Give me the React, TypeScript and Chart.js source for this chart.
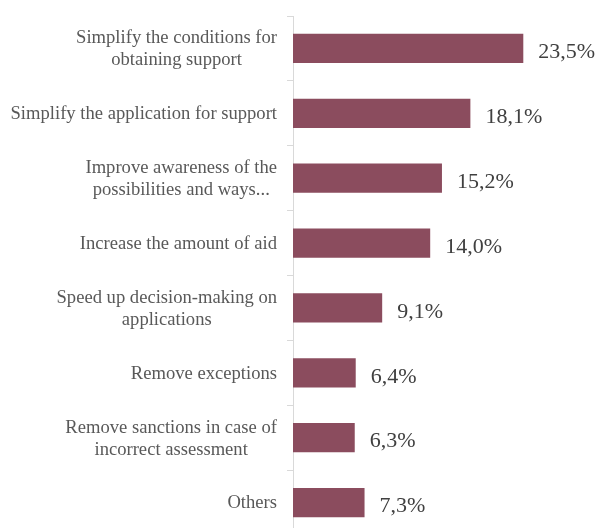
import React, { useEffect, useRef } from 'react';
import { Chart, registerables } from 'chart.js';

Chart.register(...registerables);

const categories: string[][] = [
  ['Simplify the conditions for', 'obtaining support'],
  ['Simplify the application for support'],
  ['Improve awareness of the', 'possibilities and ways...'],
  ['Increase the amount of aid'],
  ['Speed up decision-making on', 'applications'],
  ['Remove exceptions'],
  ['Remove sanctions in case of', 'incorrect assessment'],
  ['Others'],
];

const values: number[] = [23.5, 18.1, 15.2, 14.0, 9.1, 6.4, 6.3, 7.3];

const xMin = 0;
const xMax = 30;

const BAR_COLOR = '#8B4C5E';
const AXIS_COLOR = '#D9D9D9';
const LABEL_COLOR = '#595959';
const VALUE_COLOR = '#404040';
const FONT = '"Liberation Serif", "Times New Roman", serif';

const fmt = (v: number) => v.toFixed(1).replace('.', ',') + '%';

export default function App() {
  const ref = useRef<HTMLCanvasElement>(null);

  useEffect(() => {
    if (!ref.current) return;

    const labelPlugin = {
      id: 'sideLabels',
      afterDraw(chart: any) {
        const ctx = chart.ctx as CanvasRenderingContext2D;
        const ys = chart.scales.y;
        const xs = chart.scales.x;
        const rightEdge = chart.chartArea.left - 16;
        ctx.save();
        ctx.font = `18.6px ${FONT}`;
        ctx.fillStyle = LABEL_COLOR;
        ctx.textAlign = 'center';
        ctx.textBaseline = 'middle';
        const lh = 22;
        categories.forEach((lines, i) => {
          const cy = ys.getPixelForValue(i) + 1;
          const w = Math.max(...lines.map((l) => ctx.measureText(l).width));
          const cx = rightEdge - w / 2;
          lines.forEach((l, j) => {
            ctx.fillText(l, cx, cy + (j - (lines.length - 1) / 2) * lh);
          });
        });
        ctx.font = `22px ${FONT}`;
        ctx.fillStyle = VALUE_COLOR;
        ctx.textAlign = 'left';
        values.forEach((v, i) => {
          ctx.fillText(fmt(v), xs.getPixelForValue(v) + 15, ys.getPixelForValue(i) + 4);
        });
        ctx.restore();
      },
    };

    const chart = new Chart(ref.current, {
      type: 'bar',
      data: {
        labels: categories.map((l) => l.join(' ')),
        datasets: [
          {
            data: values,
            backgroundColor: BAR_COLOR,
            borderWidth: 0,
            barPercentage: 0.45,
            categoryPercentage: 1,
          },
        ],
      },
      options: {
        indexAxis: 'y',
        responsive: false,
        animation: false,
        layout: { padding: { top: 16, right: 12, left: 0, bottom: 0 } },
        plugins: {
          legend: { display: false },
          tooltip: { enabled: false },
        },
        scales: {
          x: { display: false, min: xMin, max: xMax },
          y: {
            grid: {
              display: true,
              drawOnChartArea: false,
              drawTicks: true,
              tickLength: 6,
              color: AXIS_COLOR,
              offset: true,
            },
            border: { display: true, color: AXIS_COLOR, width: 1 },
            ticks: { display: false },
            afterFit: (s: any) => {
              s.width = 293;
            },
          },
        },
      },
      plugins: [labelPlugin],
    });

    return () => chart.destroy();
  }, []);

  return (
    <div
      style={{
        position: 'fixed',
        top: 0,
        left: 0,
        width: 599,
        height: 528,
        overflow: 'hidden',
        background: '#fff',
      }}
    >
      <canvas ref={ref} width={599} height={535} style={{ display: 'block' }} />
    </div>
  );
}
